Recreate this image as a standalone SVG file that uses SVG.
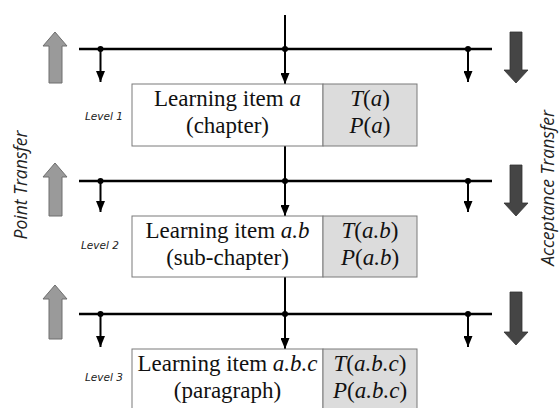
<svg xmlns="http://www.w3.org/2000/svg" width="560" height="408" viewBox="0 0 560 408">
<style>
.bus{stroke:#000;stroke-width:2.5;fill:none}
.drop{stroke:#000;stroke-width:2;fill:none}
.dot{fill:#000}
.box{fill:#fff;stroke:#7a7a7a;stroke-width:1}
.gbox{fill:#dcdcdc;stroke:#7a7a7a;stroke-width:1}
.t{font-family:'Liberation Serif','Times New Roman',serif;font-size:23px;fill:#111;text-anchor:middle}
.i{font-style:italic}
.lvl{font-family:'DejaVu Sans',sans-serif;font-style:italic;font-size:10.5px;fill:#222}
.side{font-family:'Open Sans',sans-serif;font-style:italic;font-size:17.5px;fill:#222}
.up{fill:#9a9a9a;stroke:#6e6e6e;stroke-width:1}
.down{fill:#454545;stroke:#333;stroke-width:0.8}
</style>
<defs>
<marker id="ah" viewBox="0 0 11 9" refX="11" refY="4.5" markerWidth="5.5" markerHeight="4.5" orient="auto" markerUnits="strokeWidth">
<path d="M0,0 L11,4.5 L0,9 z" fill="#000"/>
</marker>
</defs>

<g id="connectors">
<line class="drop" x1="285" y1="15" x2="285" y2="84" marker-end="url(#ah)"/>
<line class="bus" x1="79" y1="49" x2="492" y2="49"/>
<line class="drop" x1="100.5" y1="49" x2="100.5" y2="82" marker-end="url(#ah)"/>
<line class="drop" x1="468" y1="49" x2="468" y2="82" marker-end="url(#ah)"/>
<circle class="dot" cx="100.5" cy="49" r="3"/>
<circle class="dot" cx="285" cy="49" r="3"/>
<circle class="dot" cx="468" cy="49" r="3"/>
<line class="drop" x1="285" y1="146" x2="285" y2="216" marker-end="url(#ah)"/>
<line class="bus" x1="79" y1="181" x2="492" y2="181"/>
<line class="drop" x1="100.5" y1="181" x2="100.5" y2="212" marker-end="url(#ah)"/>
<line class="drop" x1="468" y1="181" x2="468" y2="212" marker-end="url(#ah)"/>
<circle class="dot" cx="100.5" cy="181" r="3"/>
<circle class="dot" cx="285" cy="181" r="3"/>
<circle class="dot" cx="468" cy="181" r="3"/>
<line class="drop" x1="285" y1="277" x2="285" y2="349" marker-end="url(#ah)"/>
<line class="bus" x1="79" y1="314" x2="492" y2="314"/>
<line class="drop" x1="100.5" y1="314" x2="100.5" y2="347" marker-end="url(#ah)"/>
<line class="drop" x1="468" y1="314" x2="468" y2="347" marker-end="url(#ah)"/>
<circle class="dot" cx="100.5" cy="314" r="3"/>
<circle class="dot" cx="285" cy="314" r="3"/>
<circle class="dot" cx="468" cy="314" r="3"/>
</g>

<g id="transfer-arrows">
<path class="up" d="M55,32 L67,46 L62,46 L62,83 L49,83 L49,46 L43,46 Z"/>
<path class="up" d="M55,163 L67,177 L62,177 L62,216 L49,216 L49,177 L43,177 Z"/>
<path class="up" d="M55,285 L67,299 L62,299 L62,339 L49,339 L49,299 L43,299 Z"/>
<path class="down" d="M510,32 L522,32 L522,70 L528,70 L516,83 L504,70 L510,70 Z"/>
<path class="down" d="M510,165 L522,165 L522,203 L528,203 L516,216 L504,203 L510,203 Z"/>
<path class="down" d="M510,292 L522,292 L522,332 L528,332 L516,345 L504,332 L510,332 Z"/>
</g>

<g id="point-transfer">
<text class="side" transform="translate(27,185) rotate(-90)" text-anchor="middle">Point Transfer</text>
</g>
<g id="acceptance-transfer">
<text class="side" transform="translate(554,188) rotate(-90)" text-anchor="middle">Acceptance Transfer</text>
</g>

<g id="level1">
<text class="lvl" x="85" y="120">Level 1</text>
<rect class="box" x="132" y="84" width="191" height="62"/>
<rect class="gbox" x="323" y="84" width="94" height="62"/>
<text class="t" x="227.5" y="106">Learning item <tspan class="i">a</tspan></text>
<text class="t" x="227.5" y="133">(chapter)</text>
<text class="t" x="370" y="106"><tspan class="i">T</tspan>(<tspan class="i">a</tspan>)</text>
<text class="t" x="370" y="133"><tspan class="i">P</tspan>(<tspan class="i">a</tspan>)</text>
</g>

<g id="level2">
<text class="lvl" x="81" y="249">Level 2</text>
<rect class="box" x="132" y="216" width="191" height="61"/>
<rect class="gbox" x="323" y="216" width="94" height="61"/>
<text class="t" x="227.5" y="238">Learning item <tspan class="i">a.b</tspan></text>
<text class="t" x="227.5" y="265">(sub-chapter)</text>
<text class="t" x="370" y="238"><tspan class="i">T</tspan>(<tspan class="i">a.b</tspan>)</text>
<text class="t" x="370" y="265"><tspan class="i">P</tspan>(<tspan class="i">a.b</tspan>)</text>
</g>

<g id="level3">
<text class="lvl" x="85" y="381">Level 3</text>
<rect class="box" x="132" y="349" width="191" height="62"/>
<rect class="gbox" x="323" y="349" width="94" height="62"/>
<text class="t" x="227.5" y="371">Learning item <tspan class="i">a.b.c</tspan></text>
<text class="t" x="227.5" y="398">(paragraph)</text>
<text class="t" x="370" y="371"><tspan class="i">T</tspan>(<tspan class="i">a.b.c</tspan>)</text>
<text class="t" x="370" y="398"><tspan class="i">P</tspan>(<tspan class="i">a.b.c</tspan>)</text>
</g>
</svg>
